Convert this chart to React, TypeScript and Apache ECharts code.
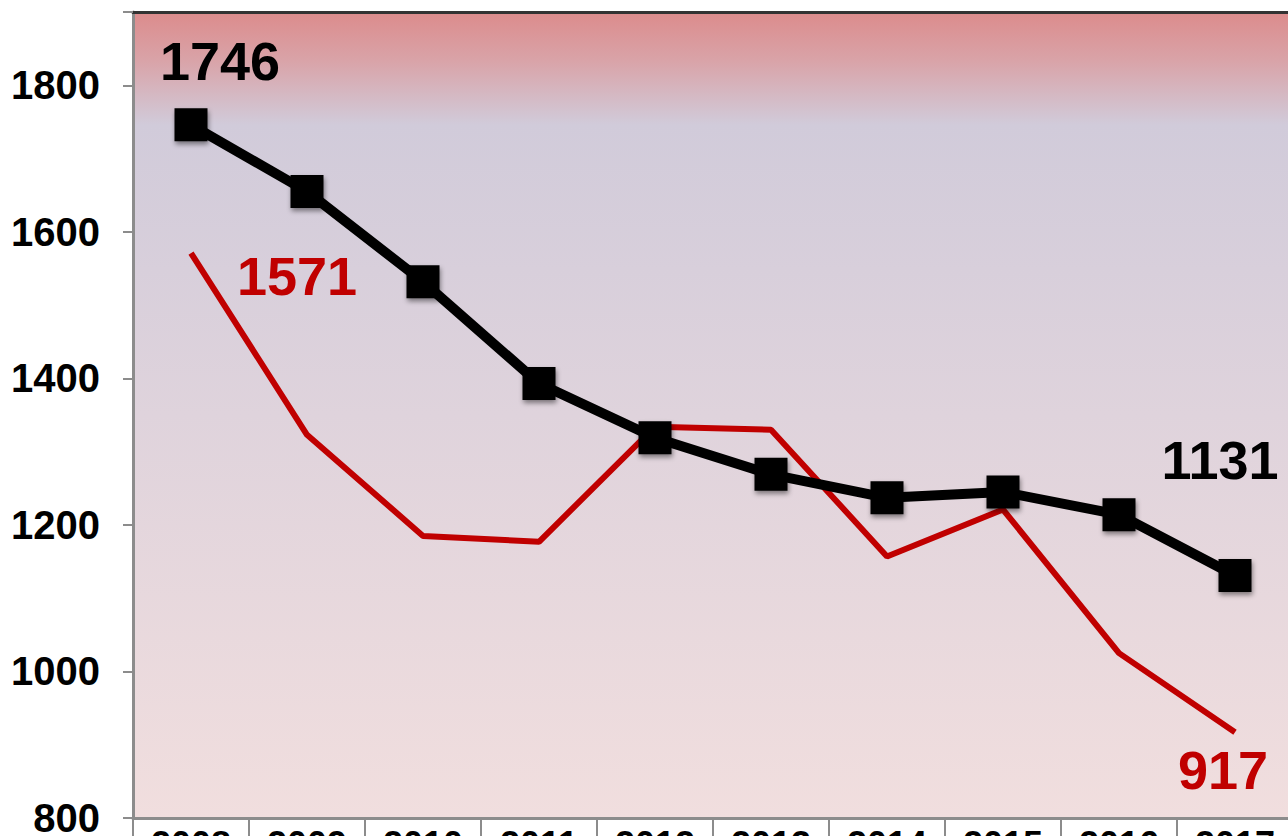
import React, { useEffect, useRef } from "react";
import * as echarts from "echarts";

const years = ["2008", "2009", "2010", "2011", "2012", "2013", "2014", "2015", "2016", "2017"];
const blackSeries = [1746, 1655, 1532, 1393, 1319, 1269, 1237, 1245, 1214, 1131];
const redSeries = [1571, 1323, 1185, 1177, 1334, 1330, 1157, 1221, 1025, 917];
const yTicks = { min: 800, max: 1900, interval: 200 };

const FONT = "'Liberation Sans', Arial, sans-serif";

export default function App() {
  const ref = useRef<HTMLDivElement>(null);
  useEffect(() => {
    if (!ref.current) return;
    const chart = echarts.init(ref.current, null, { renderer: "svg" });
    const last = years.length - 1;
    chart.setOption({
      animation: false,
      grid: {
        left: 133,
        top: 12,
        width: 1160,
        height: 806,
        show: true,
        borderWidth: 0,
        containLabel: false,
        outerBoundsMode: "none",
        backgroundColor: new echarts.graphic.LinearGradient(0, 0, 0, 1, [
          { offset: 0, color: "#DC8B8C" },
          { offset: 0.06, color: "#D9A3A8" },
          { offset: 0.14, color: "#D1CBDA" },
          { offset: 0.5, color: "#DFD3DC" },
          { offset: 1, color: "#F1DEDE" },
        ]),
      },
      xAxis: [
        {
          type: "category",
          data: years,
          boundaryGap: true,
          axisLine: { show: true, lineStyle: { color: "#8C8C8C", width: 3 } },
          axisTick: { show: true, length: 30, lineStyle: { color: "#8C8C8C", width: 2 } },
          axisLabel: {
            margin: 8,
            fontSize: 36,
            fontWeight: "bold",
            color: "#000",
            fontFamily: FONT,
          },
        },
        {
          type: "category",
          data: years,
          position: "top",
          axisLine: { show: true, lineStyle: { color: "#333", width: 3 } },
          axisTick: { show: false },
          axisLabel: { show: false },
        },
      ],
      yAxis: {
        type: "value",
        min: yTicks.min,
        max: yTicks.max,
        interval: yTicks.interval,
        splitLine: { show: false },
        axisLine: { show: true, lineStyle: { color: "#8C8C8C", width: 3 } },
        axisTick: { show: true, length: 10, lineStyle: { color: "#8C8C8C", width: 2 } },
        axisLabel: {
          margin: 33,
          fontSize: 40,
          fontWeight: "bold",
          color: "#000",
          fontFamily: FONT,
          formatter: (v: number) => (v === 1900 ? "" : String(v)),
        },
      },
      series: [
        {
          type: "line",
          data: redSeries.map((v, i) => ({
            value: v,
            label:
              i === 0
                ? { show: true, offset: [106, 23], position: "inside" }
                : i === last
                ? { show: true, offset: [-12, 38], position: "inside" }
                : { show: false },
          })),
          showSymbol: true,
          symbol: "circle",
          symbolSize: 1,
          itemStyle: { color: "rgba(192,0,0,0)" },
          lineStyle: { color: "#C00000", width: 6 },
          label: {
            color: "#C00000",
            fontSize: 54,
            fontWeight: "bold",
            fontFamily: FONT,
          },
          z: 2,
        },
        {
          type: "line",
          data: blackSeries.map((v, i) => ({
            value: v,
            label:
              i === 0
                ? { show: true, offset: [29, -64], position: "inside" }
                : i === last
                ? { show: true, offset: [-15, -115], position: "inside" }
                : { show: false },
          })),
          symbol: "rect",
          symbolSize: 33,
          itemStyle: {
            color: "#000",
            shadowBlur: 5,
            shadowOffsetX: 1,
            shadowOffsetY: 3,
            shadowColor: "rgba(0,0,0,0.45)",
          },
          lineStyle: { color: "#000", width: 10 },
          label: {
            color: "#000",
            fontSize: 54,
            fontWeight: "bold",
            fontFamily: FONT,
          },
          z: 3,
        },
      ],
    });
    return () => chart.dispose();
  }, []);
  return (
    <div
      ref={ref}
      style={{ position: "fixed", left: 0, top: 0, width: 1288, height: 836, background: "#fff" }}
    />
  );
}
